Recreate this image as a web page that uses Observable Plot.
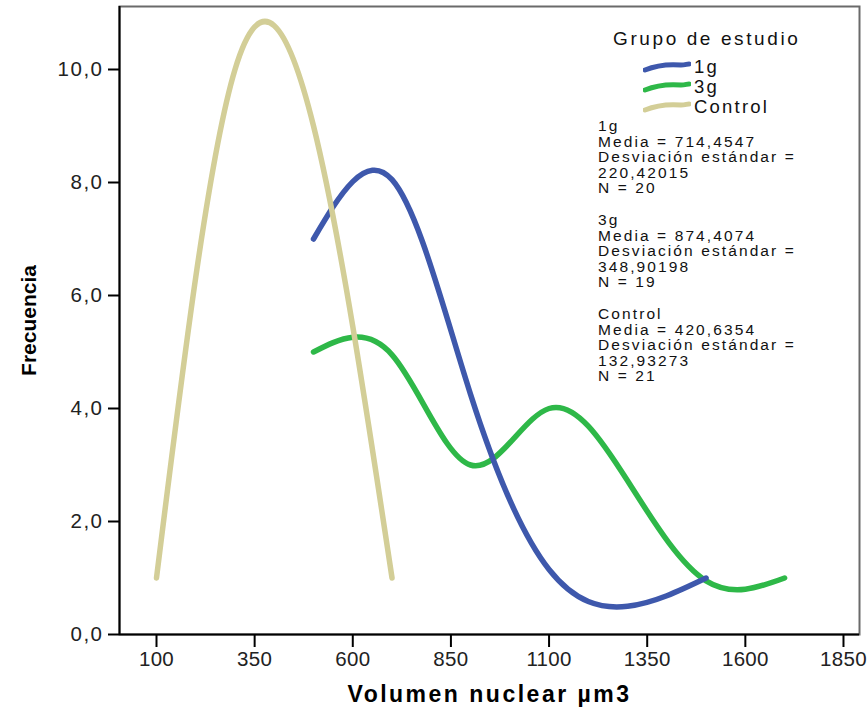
<!DOCTYPE html>
<html>
<head>
<meta charset="utf-8">
<script src="https://cdn.jsdelivr.net/npm/d3@7"></script>
<script src="https://cdn.jsdelivr.net/npm/@observablehq/plot@0.6"></script>
<style>
  html, body { margin: 0; padding: 0; background: #fff; }
  #wrap { position: relative; width: 867px; height: 709px; font-family: "Liberation Sans", Arial, sans-serif; }
  g[aria-label="x-axis tick label"] text { letter-spacing: 0.3px; }
  g[aria-label="y-axis tick label"] text { letter-spacing: 1.5px; }
  .leg { position: absolute; color: #111; white-space: pre; }
  .title { left: 613px; top: 28px; font-size: 19px; line-height: 22px; letter-spacing: 2.6px; }
  .item { left: 643px; font-size: 18.5px; line-height: 20px; letter-spacing: 2.2px; display: flex; align-items: center; }
  .item svg { margin-right: 3px; }
  .stats { left: 598px; font-size: 15.5px; line-height: 15.6px; letter-spacing: 2.1px; }
</style>
</head>
<body>
<div id="wrap"></div>
<script>
// ---- Data (interpolation knots of each group) ----
const groups = ["1g", "3g", "Control"];
const colors = ["#3E58AC", "#2EB848", "#D3CE97"];

const g1X = [500, 700, 900, 1100, 1300, 1500];
const g1Y = [7.0, 8.05, 4.25, 1.15, 0.5, 1.0];

const g3X = [500, 700, 900, 1100, 1300, 1500, 1700];
const g3Y = [5.0, 4.95, 3.0, 4.0, 2.72, 0.95, 1.0];

const ctlX = [100, 300, 500, 700];
const ctlY = [1, 10, 9, 1];

const xTicks = [100, 350, 600, 850, 1100, 1350, 1600, 1850];
const yTicks = [0, 2, 4, 6, 8, 10];

const xLabel = "Volumen nuclear µm3";
const yLabel = "Frecuencia";
const legendTitle = "Grupo de estudio";
const stats = [
  ["1g", "Media = 714,4547", "Desviación estándar =", "220,42015", "N = 20"],
  ["3g", "Media = 874,4074", "Desviación estándar =", "348,90198", "N = 19"],
  ["Control", "Media = 420,6354", "Desviación estándar =", "132,93273", "N = 21"]
];

// ---- Build tables ----
const toRows = (xs, ys, g) => xs.map((x, i) => ({x, y: ys[i], g}));
const rows1 = toRows(g1X, g1Y, "1g");
const rows3 = toRows(g3X, g3Y, "3g");
const rowsC = toRows(ctlX, ctlY, "Control");

const xDomain = [5.75, 1890.8];
const yDomain = [0, 11.115];
const fmtY = d => d.toFixed(1).replace(".", ",");
const fmtX = d => String(d);

const lineOpts = {x: "x", y: "y", stroke: "g", strokeWidth: 5.5, curve: "natural", strokeLinecap: "round"};

const chart = Plot.plot({
  width: 867,
  height: 709,
  marginLeft: 119,
  marginRight: 8,
  marginTop: 6,
  marginBottom: 75,
  style: {fontFamily: "'Liberation Sans', Arial, sans-serif", fontSize: "20.5px", color: "#222", background: "transparent"},
  x: {domain: xDomain},
  y: {domain: yDomain},
  color: {domain: groups, range: colors},
  marks: [
    Plot.frame({stroke: "#6a6a6a", strokeWidth: 2}),
    Plot.line(rows3, lineOpts),
    Plot.line(rows1, lineOpts),
    Plot.line(rowsC, lineOpts),
    Plot.ruleY([yDomain[0]], {stroke: "#000", strokeWidth: 2}),
    Plot.ruleX([xDomain[0]], {stroke: "#000", strokeWidth: 2}),
    Plot.axisX({ticks: xTicks, tickSize: 13, tickPadding: 4, tickFormat: fmtX, label: null, stroke: "#000", strokeWidth: 2}),
    Plot.axisY({ticks: yTicks, tickSize: 11, tickPadding: 5, tickFormat: fmtY, label: null, stroke: "#000", strokeWidth: 2}),
    Plot.text([yLabel], {text: d => d, frameAnchor: "left", dx: -90, rotate: -90, textAnchor: "middle", fontWeight: "bold", fontSize: 21, lineAnchor: "middle", fill: "#000"}),
    Plot.text([xLabel], {text: d => d, frameAnchor: "bottom", dy: 60, textAnchor: "middle", fontWeight: "bold", fontSize: 23, lineAnchor: "middle", fill: "#000"})
  ]
});
const wrap = document.getElementById("wrap");
wrap.appendChild(chart);
chart.querySelectorAll("text").forEach(t => { if (t.textContent === xLabel) t.style.letterSpacing = "2.5px"; });

// ---- Legend (HTML overlay) ----
const t = document.createElement("div");
t.className = "leg title"; t.textContent = legendTitle; wrap.appendChild(t);
const itemY = [57, 77, 97];
groups.forEach((g, i) => {
  const d = document.createElement("div");
  d.className = "leg item";
  d.style.top = itemY[i] + "px";
  d.innerHTML = `<svg width="48" height="12" viewBox="0 0 48 12"><path d="M2,9 C14,4 26,3 38,4 C42,4 44,3 46,3" fill="none" stroke="${colors[i]}" stroke-width="5" stroke-linecap="round"/></svg><span>${g}</span>`;
  wrap.appendChild(d);
});
const blockTop = [118, 212, 306];
stats.forEach((lines, i) => {
  const d = document.createElement("div");
  d.className = "leg stats";
  d.style.top = blockTop[i] + "px";
  d.textContent = lines.join("\n");
  wrap.appendChild(d);
});
</script>
</body>
</html>
